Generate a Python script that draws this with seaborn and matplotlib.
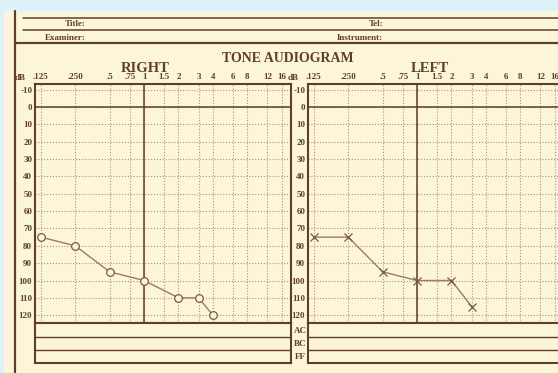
import matplotlib
matplotlib.use("Agg")
import matplotlib.pyplot as plt
from matplotlib.lines import Line2D
from matplotlib.patches import Rectangle
from matplotlib.ticker import NullLocator
import seaborn as sns

# Audiogram grid: frequencies (kHz) and hearing level (dB)
freq_ticks = [0.125, 0.25, 0.5, 0.75, 1, 1.5, 2, 3, 4, 6, 8, 12, 16]
freq_labels = [".125", ".250", ".5", ".75", "1", "1.5", "2", "3", "4", "6", "8", "12", "16"]
db_ticks = list(range(-10, 130, 10))

# Measured thresholds
right_freq = [0.125, 0.25, 0.5, 1, 2, 3, 4]
right_db = [75, 80, 95, 100, 110, 110, 120]
left_freq = [0.125, 0.25, 0.5, 1, 2, 3]
left_db = [75, 75, 95, 100, 100, 115]

PAPER = "#fdf5da"
SKY = "#dff1f8"
INK = "#5e3f27"
GRID = "#ae9274"
TRACE = "#9c7c5e"
MARK = "#7a5a3e"

W, H = 558, 373
sns.set_theme(style="white")
plt.rcParams["font.family"] = ["Liberation Serif", "DejaVu Serif"]
plt.rcParams["font.weight"] = "bold"

fig = plt.figure(figsize=(W / 100, H / 100), dpi=100)
fig.patch.set_facecolor(SKY)


def fx(px):
    return px / W


def fy(py):
    return 1 - py / H


# paper sheet
fig.add_artist(Rectangle((fx(4), 0), 1, fy(11), transform=fig.transFigure,
                         facecolor=PAPER, edgecolor="none", zorder=0))

# header rules and left margin line
for y0, x0, lw in [(17.5, 23, 1.1), (30, 23, 1.1), (43, 15, 1.6)]:
    fig.add_artist(Line2D([fx(x0), 1], [fy(y0), fy(y0)], color=INK, lw=lw,
                          transform=fig.transFigure))
fig.add_artist(Line2D([fx(15), fx(15)], [fy(11), 0], color=INK, lw=1.6,
                      transform=fig.transFigure))

hdr = dict(fontsize=6.5, weight="bold", color=INK, ha="right", va="center")
fig.text(fx(86), fy(24.5), "Title:", **hdr)
fig.text(fx(86), fy(37.5), "Examiner:", **hdr)
fig.text(fx(383), fy(24.5), "Tel:", **hdr)
fig.text(fx(383), fy(37.5), "Instrument:", **hdr)

fig.text(fx(288), fy(58.5), "TONE AUDIOGRAM", fontsize=10, weight="bold",
         color=INK, ha="center", va="center")


def ear_panel(left_px, title, title_x, freqs, dbs, marker):
    ax = fig.add_axes([fx(left_px), fy(323), 256 / W, (323 - 84) / H])
    ax.set_facecolor(PAPER)
    if marker == "o":
        sns.lineplot(x=freqs, y=dbs, ax=ax, color=TRACE, lw=1.0, marker="o",
                     markersize=5.5, markerfacecolor=PAPER, markeredgecolor=MARK,
                     markeredgewidth=0.9, zorder=5)
    else:
        sns.lineplot(x=freqs, y=dbs, ax=ax, color=TRACE, lw=1.0, marker="x",
                     markersize=6, markeredgecolor=MARK, markeredgewidth=0.9,
                     zorder=5)
    ax.set_xscale("log", base=2)
    ax.set_xlim(0.111, 19.3)
    ax.set_ylim(124.5, -13.3)
    ax.set_xticks(freq_ticks)
    ax.set_xticklabels(freq_labels)
    ax.xaxis.set_minor_locator(NullLocator())
    ax.set_yticks(db_ticks)
    ax.set_yticklabels([str(v) for v in db_ticks])
    ax.xaxis.tick_top()
    ax.tick_params(axis="x", length=0, pad=2, labelsize=6.5, labelcolor=INK)
    ax.tick_params(axis="y", length=0, pad=2, labelsize=6.5, labelcolor=INK)
    for lab in ax.get_xticklabels() + ax.get_yticklabels():
        lab.set_fontweight("bold")
    ax.grid(True, which="major", linestyle=(0, (1, 1.6)), color=GRID, lw=0.8)
    ax.axhline(0, color=INK, lw=1.1, zorder=3)
    ax.axvline(1, color=INK, lw=1.1, zorder=3)
    for s in ax.spines.values():
        s.set_color(INK)
        s.set_linewidth(1.5)
    ax.set_xlabel("")
    ax.set_ylabel("")
    fig.text(fx(left_px - 9), fy(77.5), "dB", fontsize=6.5, weight="bold",
             color=INK, ha="right", va="center")
    fig.text(fx(title_x), fy(68), title, fontsize=10.5, weight="bold",
             color=INK, ha="center", va="center")

    # conduction rows below the grid
    bx = fig.add_axes([fx(left_px), fy(363), 256 / W, 40 / H])
    bx.set_facecolor(PAPER)
    bx.set_xticks([])
    bx.set_yticks([])
    bx.set_xlim(0, 1)
    bx.set_ylim(0, 1)
    for s in bx.spines.values():
        s.set_color(INK)
        s.set_linewidth(1.5)
    bx.axhline(0.65, color=INK, lw=1.0)
    bx.axhline(0.325, color=INK, lw=1.0)
    return ax


ear_panel(35, "RIGHT", 145.5, right_freq, right_db, "o")
ear_panel(308, "LEFT", 429.5, left_freq, left_db, "x")

for lab, yy in [("AC", 331), ("BC", 344), ("FF", 357)]:
    fig.text(fx(300), fy(yy), lab, fontsize=6.5, weight="bold", color=INK,
             ha="center", va="center")

fig.savefig("out.png", dpi=100, facecolor=SKY)
